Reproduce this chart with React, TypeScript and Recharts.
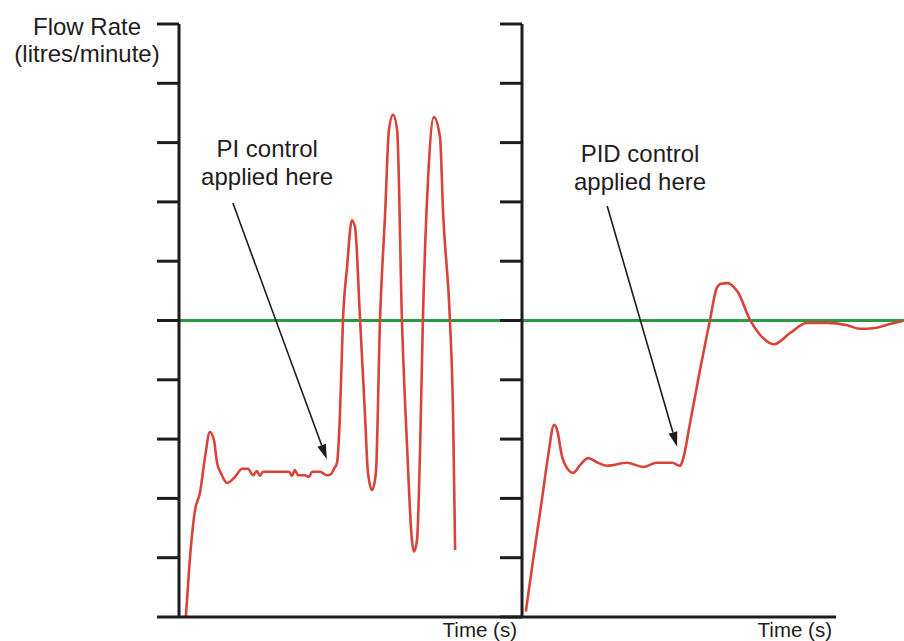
import React from 'react';
import { LineChart, Line, XAxis, YAxis, ReferenceLine, ReferenceDot, Label } from 'recharts';

// ---- data ----
const flowTicks = [0, 1, 2, 3, 4, 5, 6, 7, 8, 9, 10];
const setPoint = 5;

const piTime = [2.0, 3.0, 4.7, 6.1, 7.6, 9.0, 10.2, 11.1, 12.2, 14.0, 16.3, 18.4, 20.1, 21.6, 22.7, 23.6, 24.5, 29.4, 32.1, 32.9, 33.8, 34.7, 36.7, 37.9, 38.8, 41.1, 43.1, 44.3, 45.2, 46.1, 46.9, 47.8, 49.0, 50.4, 51.3, 52.8, 54.2, 55.1, 56.3, 57.4, 58.6, 60.1, 61.2, 62.4, 63.6, 65.0, 66.5, 67.9, 68.5, 69.4, 70.3, 71.1, 72.6, 74.3, 76.1, 77.0, 79.0, 79.9, 80.5];
const piFlow = [0, 0.85, 1.81, 2.09, 2.7, 3.12, 2.98, 2.6, 2.43, 2.26, 2.36, 2.5, 2.5, 2.39, 2.46, 2.38, 2.45, 2.45, 2.45, 2.38, 2.48, 2.39, 2.39, 2.36, 2.45, 2.45, 2.39, 2.41, 2.5, 2.61, 3.37, 5.0, 5.9, 6.69, 6.58, 5.0, 3.44, 2.43, 2.14, 2.43, 5.0, 6.81, 8.21, 8.47, 8.21, 5.0, 2.87, 1.3, 1.1, 1.3, 2.87, 5.0, 7.37, 8.43, 8.09, 6.81, 5.0, 3.44, 1.13];

const pidTime = [1.0, 2.9, 5.2, 6.8, 8.4, 9.2, 10.5, 11.8, 13.4, 15.2, 17.3, 19.6, 22.3, 27.5, 31.7, 35.3, 39.3, 41.4, 42.1, 44.0, 46.6, 49.2, 51.0, 52.1, 53.9, 55.5, 56.5, 59.7, 62.3, 66.0, 70.2, 74.6, 79.8, 85.1, 88.5, 91.9, 96.3, 99.7];
const pidFlow = [0.09, 0.96, 1.97, 2.7, 3.24, 3.15, 2.7, 2.51, 2.43, 2.56, 2.68, 2.61, 2.55, 2.6, 2.53, 2.6, 2.6, 2.55, 2.65, 3.27, 4.17, 5.01, 5.55, 5.62, 5.63, 5.56, 5.48, 5.01, 4.76, 4.6, 4.79, 4.96, 4.96, 4.92, 4.86, 4.87, 4.94, 4.99];

// annotations (data coordinates)
const piLabelLines = ['PI control', 'applied here'];
const pidLabelLines = ['PID control', 'applied here'];
const piLabelAt = { x: 25.7, y: 7.76 };
const pidLabelAt = { x: 30.9, y: 7.67 };
const piArrow = [{ x: 15.7, y: 6.98 }, { x: 43.1, y: 2.66 }];
const pidArrow = [{ x: 22.3, y: 6.93 }, { x: 40.6, y: 2.87 }];
const rightAxisEnd = 82.2;
const xLabel = 'Time (s)';
const yLabelLines = ['Flow Rate', '(litres/minute)'];

const piData = piTime.map((t, i) => ({ t, flow: piFlow[i] }));
const pidData = pidTime.map((t, i) => ({ t, flow: pidFlow[i] }));

const FONT = '"Liberation Sans", Arial, Helvetica, sans-serif';
const INK = '#1f1c1d';
const RED = '#d8433a';
const GREEN = '#2a9a45';
const AXIS_W = 3;
const X_LABEL_DY = 20;

const emptyTick = () => <g />;

const arrowShape = (props: any) => {
  const { x1, y1, x2, y2 } = props;
  const dx = x2 - x1;
  const dy = y2 - y1;
  const len = Math.sqrt(dx * dx + dy * dy);
  const ux = dx / len;
  const uy = dy / len;
  const hl = 15;
  const hw = 4.5;
  const bx = x2 - ux * hl;
  const by = y2 - uy * hl;
  const pts = `${x2},${y2} ${bx - uy * hw},${by + ux * hw} ${bx + uy * hw},${by - ux * hw}`;
  return (
    <g>
      <line x1={x1} y1={y1} x2={bx} y2={by} stroke={INK} strokeWidth={1.6} />
      <polygon points={pts} fill={INK} />
    </g>
  );
};

const multiLineText = (lines: string[]) => (props: any) => {
  const { cx, cy } = props;
  return (
    <g>
      {lines.map((s, i) => (
        <text key={i} x={cx} y={cy + i * 28} textAnchor="middle" fontFamily={FONT} fontSize={24} fill={INK}>
          {s}
        </text>
      ))}
    </g>
  );
};

const rightAxisShape = (props: any) => {
  const { x1, y1, x2 } = props;
  return (
    <g>
      <line x1={x1} y1={y1} x2={x2} y2={y1} stroke={INK} strokeWidth={AXIS_W} />
      <text x={x2 - 4} y={y1 + X_LABEL_DY} textAnchor="end" fontFamily={FONT} fontSize={20.5} fill={INK}>
        {xLabel}
      </text>
    </g>
  );
};

const yLabelContent = (props: any) => {
  const vb = props.viewBox || { x: 0, y: 24 };
  return (
    <g>
      {yLabelLines.map((s, i) => (
        <text key={i} x={vb.x + 87} y={vb.y + 11 + i * 27} textAnchor="middle" fontFamily={FONT} fontSize={24} fill={INK}>
          {s}
        </text>
      ))}
    </g>
  );
};

const xLabelContent = (props: any) => {
  const vb = props.viewBox || { x: 179, y: 617, width: 343 };
  return (
    <text x={vb.x + vb.width - 5} y={vb.y + X_LABEL_DY} textAnchor="end" fontFamily={FONT} fontSize={20.5} fill={INK}>
      {xLabel}
    </text>
  );
};

export default function App() {
  return (
    <div style={{ position: 'absolute', left: 0, top: 0, width: 904, height: 641, background: '#fff', overflow: 'hidden' }}>
      <div style={{ position: 'absolute', left: 0, top: 0 }}>
        <LineChart width={522} height={641} data={piData} margin={{ top: 24, right: 0, bottom: 0, left: 0 }}>
          <XAxis
            dataKey="t"
            type="number"
            domain={[0, 100]}
            height={24}
            tick={emptyTick}
            tickLine={false}
            axisLine={{ stroke: INK, strokeWidth: AXIS_W }}
          >
            <Label content={xLabelContent} />
          </XAxis>
          <YAxis
            type="number"
            domain={[0, 10]}
            ticks={flowTicks}
            width={179}
            tick={emptyTick}
            tickSize={22}
            tickLine={{ stroke: INK, strokeWidth: AXIS_W }}
            axisLine={{ stroke: INK, strokeWidth: AXIS_W }}
          >
            <Label content={yLabelContent} />
          </YAxis>
          <ReferenceLine y={setPoint} stroke={GREEN} strokeWidth={3} />
          <Line type="monotone" dataKey="flow" stroke={RED} strokeWidth={2.6} dot={false} isAnimationActive={false} />
          <ReferenceLine segment={piArrow} shape={arrowShape} />
          <ReferenceDot x={piLabelAt.x} y={piLabelAt.y} shape={multiLineText(piLabelLines)} />
        </LineChart>
      </div>
      <div style={{ position: 'absolute', left: 500, top: 0 }}>
        <LineChart width={404} height={641} data={pidData} margin={{ top: 24, right: 0, bottom: 0, left: 0 }}>
          <XAxis dataKey="t" type="number" domain={[0, 100]} height={24} tick={emptyTick} tickLine={false} axisLine={false} />
          <YAxis
            type="number"
            domain={[0, 10]}
            ticks={flowTicks}
            width={22}
            tick={emptyTick}
            tickSize={22}
            tickLine={{ stroke: INK, strokeWidth: AXIS_W }}
            axisLine={{ stroke: INK, strokeWidth: AXIS_W }}
          />
          <ReferenceLine y={setPoint} stroke={GREEN} strokeWidth={3} />
          <ReferenceLine segment={[{ x: 0, y: 0 }, { x: rightAxisEnd, y: 0 }]} shape={rightAxisShape} />
          <Line type="monotone" dataKey="flow" stroke={RED} strokeWidth={2.6} dot={false} isAnimationActive={false} />
          <ReferenceLine segment={pidArrow} shape={arrowShape} />
          <ReferenceDot x={pidLabelAt.x} y={pidLabelAt.y} shape={multiLineText(pidLabelLines)} />
        </LineChart>
      </div>
    </div>
  );
}
